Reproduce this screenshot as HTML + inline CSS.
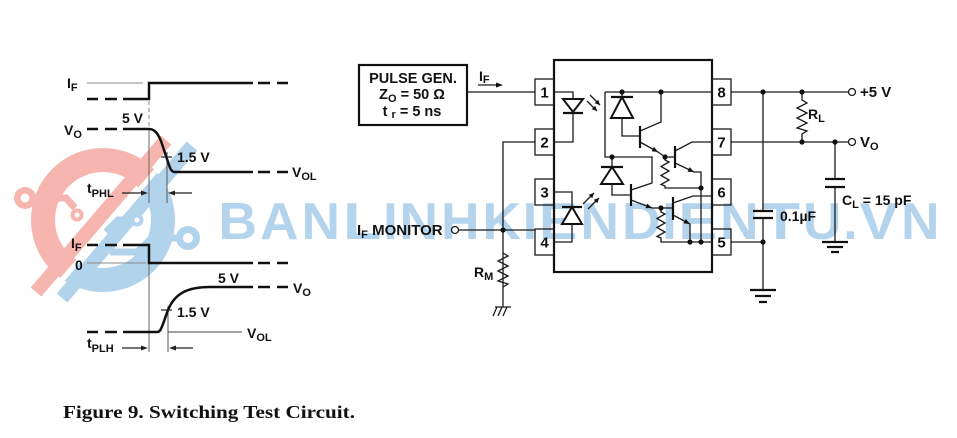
<!DOCTYPE html>
<html><head><meta charset="utf-8"><style>
html,body{margin:0;padding:0;background:#fff;}
svg{display:block}
</style></head><body>
<svg width="957" height="438" viewBox="0 0 957 438" xmlns="http://www.w3.org/2000/svg" font-family="'Liberation Sans', Arial, sans-serif" font-weight="bold" fill="#111">
<defs>
<clipPath id="cr"><polygon points="0,110 205,110 24,320 0,320"/></clipPath>
<clipPath id="cb"><polygon points="211,110 280,110 280,320 31,320"/></clipPath>
</defs>

<!-- ===== watermark logo ===== -->
<g clip-path="url(#cr)">
<circle cx="103" cy="220" r="60" fill="none" stroke="#f6b5ae" stroke-width="24"/>
<line x1="166" y1="140" x2="36" y2="292" stroke="#f6b5ae" stroke-width="14"/>
</g>
<g clip-path="url(#cb)">
<circle cx="103" cy="220" r="60" fill="none" stroke="#b2d3ec" stroke-width="24"/>
<line x1="192" y1="146" x2="62" y2="298" stroke="#b2d3ec" stroke-width="14"/>
</g>
<g fill="none" stroke="#f6b5ae" stroke-width="7">
<polyline points="35,198 66,198 75,208"/>
</g>
<circle cx="25" cy="198" r="11" fill="#f6b5ae"/><circle cx="25" cy="198" r="4.5" fill="#fff"/>
<circle cx="77" cy="215" r="6.5" fill="#f6b5ae"/><circle cx="77" cy="215" r="2.5" fill="#fff"/>
<g fill="none" stroke="#b2d3ec" stroke-width="7">
<polyline points="177,238 152,238 137,252 110,252"/>
<polyline points="131,220 118,220 106,232"/>
</g>
<circle cx="188" cy="238" r="12" fill="#b2d3ec"/><circle cx="188" cy="238" r="5" fill="#fff"/>
<circle cx="137" cy="220" r="6.5" fill="#b2d3ec"/><circle cx="137" cy="220" r="2.5" fill="#fff"/>

<!-- ===== watermark text ===== -->
<g fill="#b4d4ed" font-size="52" font-weight="bold">
<text x="218.5" y="239" textLength="38.5" lengthAdjust="spacingAndGlyphs">B</text>
<text x="260" y="239" textLength="38.5" lengthAdjust="spacingAndGlyphs">A</text>
<text x="301.5" y="239" textLength="38.5" lengthAdjust="spacingAndGlyphs">N</text>
<text x="343" y="239" textLength="38.5" lengthAdjust="spacingAndGlyphs">L</text>
<text x="383.3" y="239">I</text>
<text x="399.5" y="239" textLength="38.5" lengthAdjust="spacingAndGlyphs">N</text>
<text x="441" y="239" textLength="38.5" lengthAdjust="spacingAndGlyphs">H</text>
<text x="482.5" y="239" textLength="38.5" lengthAdjust="spacingAndGlyphs">K</text>
<text x="522.8" y="239">I</text>
<text x="539" y="239" textLength="38.5" lengthAdjust="spacingAndGlyphs">E</text>
<text x="580.5" y="239" textLength="38.5" lengthAdjust="spacingAndGlyphs">N</text>
<text x="622" y="239" textLength="38.5" lengthAdjust="spacingAndGlyphs">D</text>
<text x="662.3" y="239">I</text>
<text x="678.5" y="239" textLength="38.5" lengthAdjust="spacingAndGlyphs">E</text>
<text x="720" y="239" textLength="38.5" lengthAdjust="spacingAndGlyphs">N</text>
<text x="761.5" y="239" textLength="38.5" lengthAdjust="spacingAndGlyphs">T</text>
<text x="803" y="239" textLength="38.5" lengthAdjust="spacingAndGlyphs">U</text>
<text x="843.3" y="239">.</text>
<text x="859.5" y="239" textLength="38.5" lengthAdjust="spacingAndGlyphs">V</text>
<text x="901" y="239" textLength="38.5" lengthAdjust="spacingAndGlyphs">N</text>
</g>

<!-- ===== waveforms ===== -->
<g fill="none" stroke="#888" stroke-width="1">
<path d="M87,83H143"/>
<path d="M149,101V128" stroke-dasharray="4,3"/>
<path d="M149,128V203" stroke="#666"/>
<path d="M167,152V203" stroke="#555"/>
<path d="M87,263H146"/>
<path d="M149,263V352" stroke="#666"/>
<path d="M168,306V352" stroke="#555"/>
<path d="M168,332H242" stroke="#444"/>
</g>
<g fill="none" stroke="#111" stroke-width="2.5">
<path d="M87,99H98M105,99H117M123,99H149V83H253M258,83H270M277,83H288"/>
<path d="M87,129H98M105,129H117M123,129H149C155,129 158,134 161,141L168,162C170,168 171,172 175,172H253M258,172H270M277,172H288"/>
<path d="M87,245H98M105,245H117M123,245H149V263H253M258,263H270M277,263H288"/>
<path d="M87,332H98M105,332H117M123,332H157C160,332 161,329 163,324L168,310C175,293 188,287 210,287H253M258,287H270M277,287H288"/>
</g>
<g fill="none" stroke="#222" stroke-width="1.2">
<path d="M161,157H172"/>
<path d="M161,310H172"/>
<path d="M122,193H142M192,193H174"/>
<path d="M122,348H142M193,348H175"/>
</g>
<polygon points="148,193 141,190.5 141,195.5" fill="#222"/>
<polygon points="168,193 175,190.5 175,195.5" fill="#222"/>
<polygon points="148,348 141,345.5 141,350.5" fill="#222"/>
<polygon points="169,348 176,345.5 176,350.5" fill="#222"/>

<g font-size="14">
<text x="67" y="88">I<tspan font-size="11" dy="3">F</tspan></text>
<text x="64" y="135">V<tspan font-size="11" dy="3">O</tspan></text>
<text x="122" y="123">5 V</text>
<text x="177" y="162">1.5 V</text>
<text x="292" y="177">V<tspan font-size="11" dy="3">OL</tspan></text>
<text x="87" y="193">t<tspan font-size="11" dy="4">PHL</tspan></text>
<text x="71" y="248">I<tspan font-size="11" dy="3">F</tspan></text>
<text x="75" y="270">0</text>
<text x="218" y="283">5 V</text>
<text x="293" y="293">V<tspan font-size="11" dy="3">O</tspan></text>
<text x="177" y="317">1.5 V</text>
<text x="247" y="338">V<tspan font-size="11" dy="3">OL</tspan></text>
<text x="87" y="348">t<tspan font-size="11" dy="4">PLH</tspan></text>
</g>

<!-- ===== circuit ===== -->
<rect x="359" y="65" width="108" height="60" fill="none" stroke="#111" stroke-width="2.2"/>
<g font-size="14.5" text-anchor="middle">
<text x="413" y="83">PULSE GEN.</text>
<text x="412" y="99">Z<tspan font-size="11" dy="3">O</tspan><tspan dy="-3"> = 50 Ω</tspan></text>
<text x="412" y="116">t <tspan font-size="11" dy="2">r</tspan><tspan dy="-2"> = 5 ns</tspan></text>
</g>
<text x="479" y="81" font-size="14">I<tspan font-size="11" dy="2">F</tspan></text>

<g fill="none" stroke="#1a1a1a" stroke-width="1.3">
<path d="M467,92H535"/>
<path d="M478,85H497"/>
<path d="M535,142H503V307"/>
<path d="M459,230H535"/>
<polyline points="503,253 508,256 498,261 508,266 498,271 508,276 498,281 508,284 503,287"/>
<path d="M495,307H511M497,307L493,316M502,307L498,316M507,307L503,316"/>
<circle cx="455" cy="230" r="3.5" fill="#fff"/>
<!-- right side -->
<path d="M731,92H848"/>
<path d="M731,142H848"/>
<path d="M731,242H763"/>
<path d="M763,92V211M763,218V290"/>
<path d="M835,142V179M835,187V242"/>
<polyline points="802,92 802,100 807,103 797,108 807,113 797,118 807,123 797,128 807,131 802,134 802,142"/>
<circle cx="852" cy="92" r="3.5" fill="#fff"/>
<circle cx="852" cy="142" r="3.5" fill="#fff"/>
</g>
<polygon points="503,85 496,82.5 496,87.5" fill="#111"/>
<g fill="none" stroke="#111" stroke-width="2.2">
<path d="M753,211H773M753,218H773"/>
<path d="M825,179H845M825,187H845"/>
<path d="M750,290H776M755,296H771M759,302H767"/>
<path d="M822,242H848M827,247H843M831,252H839"/>
</g>
<g fill="#111">
<circle cx="503" cy="230" r="2.6"/>
<circle cx="763" cy="92" r="2.6"/>
<circle cx="802" cy="92" r="2.6"/>
<circle cx="802" cy="142" r="2.6"/>
<circle cx="835" cy="142" r="2.6"/>
<circle cx="763" cy="242" r="2.6"/>
</g>

<g font-size="15">
<text x="357" y="235">I<tspan font-size="11" dy="3">F</tspan><tspan dy="-3"> MONITOR</tspan></text>
<text x="474" y="277" font-size="14">R<tspan font-size="11" dy="3">M</tspan></text>
<text x="860" y="97">+5 V</text>
<text x="860" y="147">V<tspan font-size="11" dy="3">O</tspan></text>
<text x="808" y="119" font-size="14">R<tspan font-size="11" dy="3">L</tspan></text>
<text x="780" y="221" font-size="14">0.1µF</text>
<text x="842" y="205" font-size="14">C<tspan font-size="11" dy="3">L</tspan><tspan dy="-3"> = 15 pF</tspan></text>
</g>

<!-- IC body and pins -->
<rect x="554" y="60" width="158" height="212" fill="none" stroke="#111" stroke-width="2.2"/>
<g fill="none" stroke="#1a1a1a" stroke-width="1.3">
<rect x="535" y="79" width="19" height="26"/>
<rect x="535" y="129" width="19" height="26"/>
<rect x="535" y="179" width="19" height="26"/>
<rect x="535" y="229" width="19" height="26"/>
<rect x="712" y="79" width="19" height="26"/>
<rect x="712" y="129" width="19" height="26"/>
<rect x="712" y="179" width="19" height="26"/>
<rect x="712" y="229" width="19" height="26"/>
</g>
<g font-size="15" text-anchor="middle">
<text x="544.5" y="97.5">1</text>
<text x="544.5" y="147.5">2</text>
<text x="544.5" y="197.5">3</text>
<text x="544.5" y="247.5">4</text>
<text x="721.5" y="97.5">8</text>
<text x="721.5" y="147.5">7</text>
<text x="721.5" y="197.5">6</text>
<text x="721.5" y="247.5">5</text>
</g>

<!-- IC internals -->
<g fill="none" stroke="#1a1a1a" stroke-width="1.3">
<path d="M554,92H573V99M573,113V142H554"/>
<path d="M554,192H572V207M572,224V242H554"/>
<path d="M605,92H712"/>
<path d="M605,92V157H652V183L631,190"/>
<path d="M622,92V97M622,118V136H640"/>
<path d="M640,131L661,122V92"/>
<path d="M640,142L658,152L665,157"/>
<path d="M665,157H675"/>
<path d="M675,151L692,142H712"/>
<path d="M675,163L694,172H701V242"/>
<polyline points="665,157 665,160 669,162 661,166.5 669,171 661,175.5 669,180 661,184.5 665,186 665,188 701,188"/>
<path d="M612,157V167M612,184V195H631"/>
<path d="M631,200L652,208H661"/>
<path d="M661,208H673"/>
<path d="M673,203L693,196H712"/>
<path d="M673,215L690,224V242"/>
<polyline points="661,208 661,212 665,214 657,218.5 665,223 657,227.5 665,232 657,236.5 661,238 661,242 712,242"/>
<path d="M590,95L600,105M587,101L597,111"/>
<path d="M583,204L594,193M588,209L599,198"/>
</g>
<g fill="#fff" stroke="#111" stroke-width="2">
<polygon points="563,99 583,99 573,112"/>
<polygon points="572,207 562,224 582,224"/>
<polygon points="622,97 611,118 633,118"/>
<polygon points="612,167 601,184 623,184"/>
</g>
<g fill="none" stroke="#111" stroke-width="2.2">
<path d="M563,113H583"/>
<path d="M562,207H582"/>
<path d="M611,97H633"/>
<path d="M601,167H623"/>
<path d="M640,126V148"/>
<path d="M675,146V168"/>
<path d="M631,184V206"/>
<path d="M673,197V220"/>
</g>
<g fill="#111">
<polygon points="600,105 594.7,103.3 598.3,99.7"/>
<polygon points="597,111 591.7,109.3 595.3,105.7"/>
<polygon points="594,193 592.3,198.3 588.7,194.7"/>
<polygon points="599,198 597.3,203.3 593.7,199.7"/>
<polygon points="658,152 651.6,151.3 654,146.9"/>
<polygon points="694,172 687.5,171.7 689.7,167.1"/>
<polygon points="652,208 645.5,208.2 647.3,203.6"/>
<polygon points="690,224 683.5,223.4 685.9,219"/>
<circle cx="622" cy="92" r="2.6"/>
<circle cx="661" cy="92" r="2.6"/>
<circle cx="612" cy="157" r="2.6"/>
<circle cx="665" cy="157" r="2.6"/>
<circle cx="701" cy="188" r="2.6"/>
<circle cx="661" cy="208" r="2.6"/>
<circle cx="690" cy="242" r="2.6"/>
<circle cx="701" cy="242" r="2.6"/>
</g>

<!-- caption -->
<text x="63" y="418" font-family="'Liberation Serif', 'Times New Roman', serif" font-size="18" font-weight="bold" textLength="292" lengthAdjust="spacingAndGlyphs">Figure 9. Switching Test Circuit.</text>
</svg>
</body></html>
